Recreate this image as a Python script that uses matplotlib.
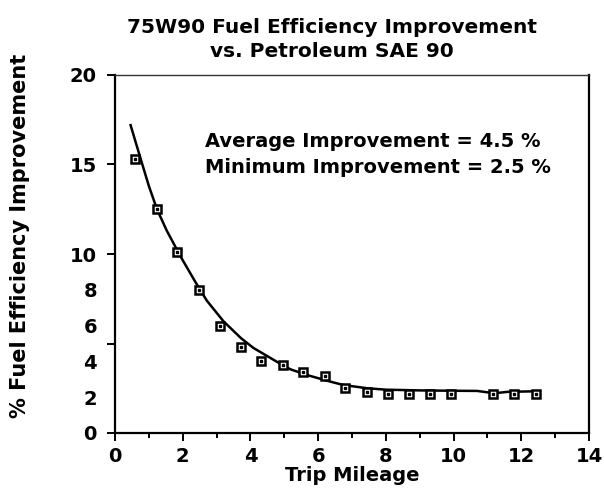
import numpy as np
import matplotlib
matplotlib.use("Agg")
import matplotlib.pyplot as plt

# data
trip_miles = [0.6, 1.24, 1.84, 2.48, 3.1, 3.72, 4.32, 4.96, 5.56, 6.2,
              6.8, 7.44, 8.06, 8.68, 9.3, 9.92, 11.16, 11.78, 12.42]
improvement = [15.3, 12.5, 10.1, 8.0, 6.0, 4.8, 4.0, 3.8, 3.4, 3.2,
               2.5, 2.3, 2.2, 2.2, 2.2, 2.2, 2.2, 2.2, 2.2]

# fitted curve
fit_x = [0.46, 0.76, 1.0, 1.24, 1.53, 1.94, 2.37, 2.71, 3.2, 3.72, 4.09,
         4.44, 4.78, 5.18, 5.67, 6.36, 6.75, 7.45, 8.0, 9.0, 10.0, 10.7,
         11.2, 11.6, 12.42]
fit_y = [17.2, 15.3, 13.8, 12.5, 11.3, 9.85, 8.45, 7.4, 6.25, 5.3, 4.75,
         4.36, 3.98, 3.56, 3.24, 2.87, 2.68, 2.5, 2.42, 2.38, 2.36, 2.35,
         2.22, 2.3, 2.33]

x_ticks = [0, 2, 4, 6, 8, 10, 12, 14]
y_marks = [0, 5, 10, 15, 20]
y_mark_labels = ["0", "", "10", "15", "20"]
y_extra = [2, 4, 6, 8]

title_1 = "75W90 Fuel Efficiency Improvement"
title_2 = "vs. Petroleum SAE 90"
note_avg = "Average Improvement = 4.5 %"
note_min = "Minimum Improvement = 2.5 %"

plt.rcParams['font.family'] = ['DejaVu Sans']
plt.rcParams['font.weight'] = 'bold'

fig = plt.figure(figsize=(6.04, 4.96), dpi=100)
ax = fig.add_axes([115/604, 63/496, 474/604, 358/496])

ax.plot(fit_x, fit_y, color='black', lw=1.8, zorder=2)
ax.plot(trip_miles, improvement, 's', ms=5.4, mfc='white', mec='black',
        mew=1.8, zorder=3)
ax.plot(trip_miles, improvement, 's', ms=1.5, color='black', zorder=4)

ax.set_xlim(0, 14)
ax.set_ylim(0, 20)

# x axis: labelled even ticks, short odd ticks
ax.set_xticks(x_ticks)
ax.set_xticks(np.arange(1, 14, 2), minor=True)
ax.tick_params(axis='x', which='major', direction='out', length=6,
               width=1.4, pad=4, labelsize=14)
ax.tick_params(axis='x', which='minor', direction='out', length=3.5,
               width=1.4)

# y axis: tick marks every 5, extra bare labels at 2, 4, 6, 8
ax.set_yticks(y_marks)
ax.set_yticklabels(y_mark_labels)
ax.set_yticks(y_extra, minor=True)
ax.set_yticklabels([str(v) for v in y_extra], minor=True)
ax.tick_params(axis='y', which='major', direction='out', length=6,
               width=1.4, pad=7, labelsize=14)
ax.tick_params(axis='y', which='minor', length=0, pad=13, labelsize=14)

for side in ['left', 'bottom', 'right']:
    ax.spines[side].set_linewidth(1.6)
ax.spines['top'].set_linewidth(1.0)
ax.spines['top'].set_color('#333333')

ax.set_xlabel("Trip Mileage", fontsize=14, fontweight='bold')
ax.xaxis.label.set_va('baseline')
ax.xaxis.set_label_coords(0.5, -0.134)
ax.set_ylabel("% Fuel Efficiency Improvement", fontsize=15,
              fontweight='bold')
ax.yaxis.set_label_coords(-0.18, 0.55)

ax.text(0.19, 0.80, note_avg, transform=ax.transAxes, fontsize=14,
        fontweight='bold', va='baseline')
ax.text(0.19, 0.727, note_min, transform=ax.transAxes, fontsize=14,
        fontweight='bold', va='baseline')

fig.text(0.55, 1 - 33/496, title_1, ha='center', va='baseline',
         fontsize=14.5, fontweight='bold')
fig.text(0.55, 1 - 57/496, title_2, ha='center', va='baseline',
         fontsize=14.5, fontweight='bold')

fig.savefig("out.png", dpi=100, facecolor='white')
